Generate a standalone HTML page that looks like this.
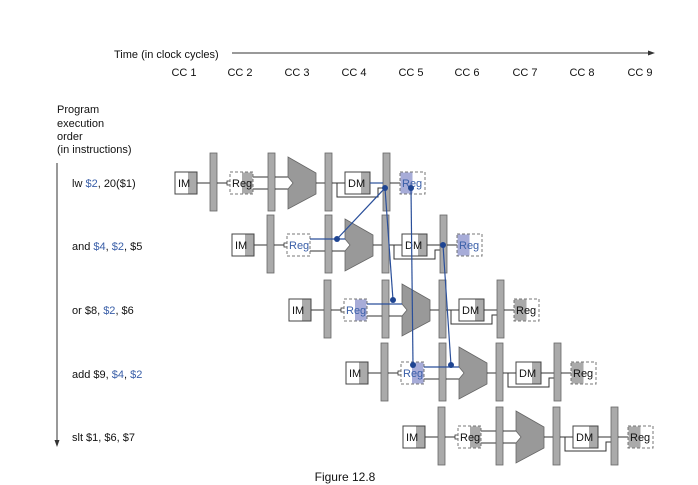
<!DOCTYPE html>
<html><head><style>
body{margin:0;background:#fff;}
svg{display:block;font-family:"Liberation Sans",Arial,sans-serif;}
</style></head><body>
<svg width="698" height="485" viewBox="0 0 698 485" xmlns="http://www.w3.org/2000/svg">
<defs>
<g id="row">
  <line x1="22" y1="0" x2="35" y2="0" stroke="#333" stroke-width="1"/>
  <rect x="0" y="-11" width="22" height="22" fill="#fff" stroke="#444" stroke-width="1"/>
  <rect x="13" y="-10.5" width="8.5" height="21" fill="#aaa"/>
  <text x="3" y="4" font-size="11" fill="#111">IM</text>
  <rect x="35" y="-30" width="7" height="58" fill="#aaa" stroke="#666" stroke-width="0.8"/>
  <line x1="42" y1="0" x2="53" y2="0" stroke="#333"/>
  <rect x="52" y="-2" width="4" height="4" fill="#fff" stroke="#333" stroke-width="0.8"/>
  <line x1="78" y1="-6" x2="93" y2="-6" stroke="#333"/>
  <line x1="78" y1="6" x2="93" y2="6" stroke="#333"/>
  <rect x="93" y="-30" width="7" height="58" fill="#aaa" stroke="#666" stroke-width="0.8"/>
  <line x1="100" y1="-6" x2="113" y2="-6" stroke="#333"/>
  <line x1="100" y1="6" x2="116" y2="6" stroke="#333"/>
  <polygon points="113,-26 141,-10 141,11 113,26 113,6 118,0 113,-6" fill="#999" stroke="#666" stroke-width="0.8"/>
  <line x1="141" y1="0" x2="150" y2="0" stroke="#333"/>
  <rect x="150" y="-30" width="7" height="58" fill="#aaa" stroke="#666" stroke-width="0.8"/>
  <line x1="157" y1="0" x2="170" y2="0" stroke="#333"/>
  <polyline points="162,0 162,14 203,14 203,5 208,5" fill="none" stroke="#333"/>
  <rect x="170" y="-11" width="25" height="22" fill="#fff" stroke="#444"/>
  <rect x="186" y="-10.5" width="8.5" height="21" fill="#aaa"/>
  <text x="173" y="4" font-size="11" fill="#111">DM</text>
  <line x1="195" y1="0" x2="208" y2="0" stroke="#333"/>
  <rect x="208" y="-30" width="7" height="58" fill="#aaa" stroke="#666" stroke-width="0.8"/>
  <line x1="215" y1="0" x2="225" y2="0" stroke="#333"/>
</g>
</defs>

<text x="114" y="58" font-size="11" fill="#111">Time (in clock cycles)</text>
<line x1="232" y1="53" x2="650" y2="53" stroke="#333"/>
<polygon points="655,53 648,50.5 648,55.5" fill="#333"/>
<g font-size="11" fill="#111" text-anchor="middle">
<text x="184" y="76">CC 1</text><text x="240" y="76">CC 2</text><text x="297" y="76">CC 3</text>
<text x="354" y="76">CC 4</text><text x="411" y="76">CC 5</text><text x="467" y="76">CC 6</text>
<text x="525" y="76">CC 7</text><text x="582" y="76">CC 8</text><text x="640" y="76">CC 9</text>
</g>
<g font-size="11" fill="#111">
<text x="57" y="113">Program</text><text x="57" y="127">execution</text>
<text x="57" y="140">order</text><text x="57" y="153">(in instructions)</text>
<text x="72" y="187">lw <tspan fill="#3a5fa8">$2</tspan>, 20($1)</text>
<text x="72" y="250">and <tspan fill="#3a5fa8">$4</tspan>, <tspan fill="#3a5fa8">$2</tspan>, $5</text>
<text x="72" y="314">or $8, <tspan fill="#3a5fa8">$2</tspan>, $6</text>
<text x="72" y="378">add $9, <tspan fill="#3a5fa8">$4</tspan>, <tspan fill="#3a5fa8">$2</tspan></text>
<text x="72" y="441">slt $1, $6, $7</text>
<text x="345" y="481" text-anchor="middle" font-size="12">Figure 12.8</text>
</g>
<line x1="57" y1="163" x2="57" y2="441" stroke="#333"/>
<polygon points="57,447 54.5,440 59.5,440" fill="#333"/>

<!-- rows -->
<g transform="translate(175,183)"><use href="#row"/>
  <rect x="55" y="-11" width="23" height="22" fill="#fff" stroke="#777" stroke-dasharray="3,2"/><rect x="67" y="-10.5" width="10.5" height="21" fill="#aaa"/><text x="57" y="4" font-size="11" fill="#111">Reg</text>
  <rect x="225" y="-11" width="25" height="22" fill="#fff" stroke="#777" stroke-dasharray="3,2"/><rect x="225.5" y="-10.5" width="12" height="21" fill="#a7acd8"/><text x="227" y="4" font-size="11" fill="#3a5fa8">Reg</text>
</g>
<g transform="translate(232,245)"><use href="#row"/>
  <rect x="55" y="-11" width="23" height="22" fill="#fff" stroke="#777" stroke-dasharray="3,2"/><text x="57" y="4" font-size="11" fill="#3a5fa8">Reg</text>
  <rect x="225" y="-11" width="25" height="22" fill="#fff" stroke="#777" stroke-dasharray="3,2"/><rect x="225.5" y="-10.5" width="12" height="21" fill="#a7acd8"/><text x="227" y="4" font-size="11" fill="#3a5fa8">Reg</text>
</g>
<g transform="translate(289,310)"><use href="#row"/>
  <rect x="55" y="-11" width="23" height="22" fill="#fff" stroke="#777" stroke-dasharray="3,2"/><rect x="66" y="-10.5" width="11.5" height="21" fill="#a7acd8"/><text x="57" y="4" font-size="11" fill="#3a5fa8">Reg</text>
  <rect x="225" y="-11" width="25" height="22" fill="#fff" stroke="#777" stroke-dasharray="3,2"/><rect x="225.5" y="-10.5" width="12" height="21" fill="#aaa"/><text x="227" y="4" font-size="11" fill="#111">Reg</text>
</g>
<g transform="translate(346,373)"><use href="#row"/>
  <rect x="55" y="-11" width="23" height="22" fill="#fff" stroke="#777" stroke-dasharray="3,2"/><rect x="66" y="-10.5" width="11.5" height="21" fill="#a7acd8"/><text x="57" y="4" font-size="11" fill="#3a5fa8">Reg</text>
  <rect x="225" y="-11" width="25" height="22" fill="#fff" stroke="#777" stroke-dasharray="3,2"/><rect x="225.5" y="-10.5" width="12" height="21" fill="#aaa"/><text x="227" y="4" font-size="11" fill="#111">Reg</text>
</g>
<g transform="translate(403,437)"><use href="#row"/>
  <rect x="55" y="-11" width="23" height="22" fill="#fff" stroke="#777" stroke-dasharray="3,2"/><rect x="67" y="-10.5" width="10.5" height="21" fill="#aaa"/><text x="57" y="4" font-size="11" fill="#111">Reg</text>
  <rect x="225" y="-11" width="25" height="22" fill="#fff" stroke="#777" stroke-dasharray="3,2"/><rect x="225.5" y="-10.5" width="12" height="21" fill="#aaa"/><text x="227" y="4" font-size="11" fill="#111">Reg</text>
</g>

<!-- forwarding -->
<g stroke="#2a4f9a" stroke-width="1.2" fill="none">
<line x1="370" y1="183" x2="383" y2="183"/>
<line x1="385" y1="188" x2="337" y2="239"/>
<line x1="385" y1="188" x2="393" y2="300"/>
<line x1="411" y1="188" x2="413" y2="365"/>
<line x1="443" y1="245" x2="451" y2="365"/>
<line x1="310" y1="239" x2="345" y2="239"/>
<line x1="367" y1="304" x2="402" y2="304"/>
<line x1="424" y1="367" x2="459" y2="367"/>
</g>
<g fill="#1f4592">
<circle cx="385" cy="188" r="3"/><circle cx="411" cy="188" r="3"/>
<circle cx="337" cy="239" r="3"/><circle cx="443" cy="245" r="3"/>
<circle cx="393" cy="300" r="3"/><circle cx="413" cy="365" r="3"/>
<circle cx="451" cy="365" r="3"/>
</g>
</svg>
</body></html>
